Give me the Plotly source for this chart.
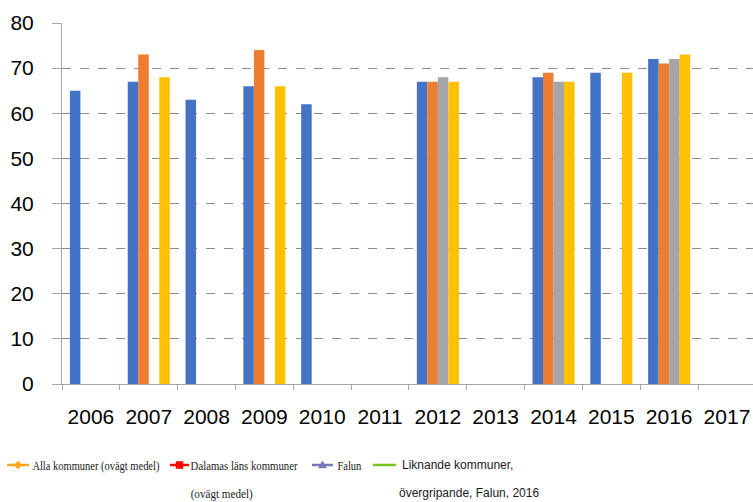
import plotly.graph_objects as go
import json

years = ["2006", "2007", "2008", "2009", "2010", "2011", "2012", "2013", "2014", "2015", "2016", "2017"]
s1 = [65, 67, 63, 66, 62, None, 67, None, 68, 69, 72, None]
s2 = [None, 73, None, 74, None, None, 67, None, 69, None, 71, None]
s3 = [None, None, None, None, None, None, 68, None, 67, None, 72, None]
s4 = [None, 68, None, 66, None, None, 67, None, 67, 69, 73, None]
colors = ["#4472C4", "#ED7D31", "#A5A5A5", "#FFC000"]

W, H = 753, 502
L, T, B = 62, 23, 118
PW, PH = W - L, H - T - B

def px(x):
    return (x - L) / PW

def py(y):
    return (H - B - y) / PH

fig = go.Figure()
for vals, c in zip([s1, s2, s3, s4], colors):
    fig.add_trace(go.Bar(x=years, y=vals, marker=dict(color=c, line=dict(width=0)), showlegend=False,
                         hoverinfo="skip"))

fig.update_layout(
    width=W, height=H,
    margin=dict(l=L, r=0, t=T, b=B, pad=0),
    paper_bgcolor="white", plot_bgcolor="white",
    barmode="group", bargap=0.273, bargroupgap=0,
    font=dict(family="Liberation Sans", color="black"),
    xaxis=dict(type="category", categoryorder="array", categoryarray=years,
               range=[-0.5, 11.45], showgrid=False, showline=True, linecolor="#A6A6A6", linewidth=1,
               ticks="outside", tickson="boundaries", ticklen=5, tickcolor="#A6A6A6",
               tickfont=dict(size=21, family="Liberation Sans"), ticklabelstandoff=14),
    yaxis=dict(range=[0, 80], tickvals=[0, 10, 20, 30, 40, 50, 60, 70, 80],
               showgrid=True, gridcolor="#8C8C8C", griddash="dash", gridwidth=1,
               showline=True, linecolor="#A6A6A6", linewidth=1,
               ticks="outside", ticklen=9, tickcolor="#A6A6A6", zeroline=False,
               tickfont=dict(size=21, family="Liberation Sans"), ticklabelstandoff=14),
)

# custom legend (drawn as in the original image)
ly1, ly2 = 465, 493
items = [
    (7, 29, "#F7A823", "diamond"),
    (170, 189, "#FF0000", "square"),
    (312, 333, "#7878B4", "triangle"),
    (373, 396, "#7CC520", None),
]
for x0, x1, c, m in items:
    fig.add_shape(type="line", xref="paper", yref="paper", x0=px(x0), x1=px(x1),
                  y0=py(ly1), y1=py(ly1), line=dict(color=c, width=2.5))
    cx = px((x0 + x1) / 2)
    cy = py(ly1)
    if m == "diamond":
        path = "M 0 4 L 4 0 L 0 -4 L -4 0 Z"
    elif m == "square":
        path = "M -3.5 -3.5 L 3.5 -3.5 L 3.5 3.5 L -3.5 3.5 Z"
    elif m == "triangle":
        path = "M -4 -3 L 4 -3 L 0 4 Z"
    else:
        path = None
    if path:
        fig.add_shape(type="path", xref="paper", yref="paper", xsizemode="pixel", ysizemode="pixel",
                      xanchor=cx, yanchor=cy, path=path, fillcolor=c, line=dict(color=c, width=0.5))

serif = dict(family="Liberation Serif", size=13.5, color="#1a1a1a")
sans = dict(family="Liberation Sans", size=12, color="#1a1a1a")
# (left, right, y, text) for condensed serif labels
serif_texts = [
    (32, 159, ly1, "Alla kommuner (ovägt medel)"),
    (191, 298, ly1, "Dalamas läns kommuner"),
    (190, 252, ly2, "(ovägt medel)"),
    (337, 361, ly1, "Falun"),
]
lengths = {}
for x0, x1, y, t in serif_texts:
    lengths[t] = x1 - x0
    fig.add_annotation(xref="paper", yref="paper", x=px((x0 + x1) / 2), y=py(y), text=t, showarrow=False,
                       xanchor="center", yanchor="middle", font=serif)
for x, y, t in [(400, ly1, "Liknande kommuner,"), (397, ly2, "övergripande, Falun, 2016")]:
    fig.add_annotation(xref="paper", yref="paper", x=px(x), y=py(y), text=t, showarrow=False,
                       xanchor="left", yanchor="middle", font=sans)

post = """
document.body.style.margin='0';document.body.style.overflow='hidden';
var LEN = %s;
function fixText(){
  document.querySelectorAll('text.annotation-text').forEach(function(t){
    var L = LEN[t.textContent];
    if (L) { t.setAttribute('textLength', L); t.setAttribute('lengthAdjust', 'spacingAndGlyphs'); }
  });
}
fixText();
var gd = document.getElementById('{plot_id}');
if (gd && gd.on) { gd.on('plotly_afterplot', fixText); }
""" % json.dumps(lengths, ensure_ascii=False)

fig.write_html("out.html", config={"displayModeBar": False}, post_script=post)
